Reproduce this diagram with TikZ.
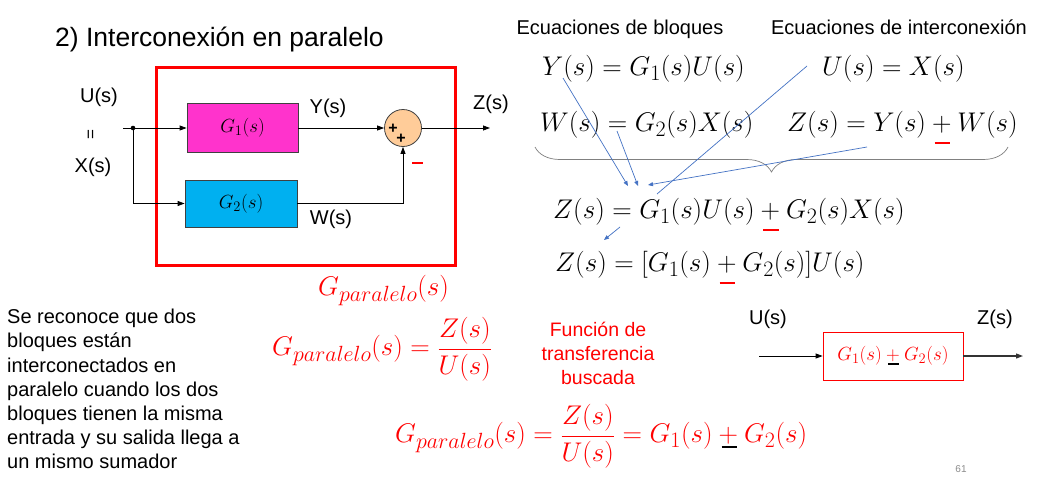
\RequirePackage{fix-cm}
\documentclass[tikz,border=0pt]{standalone}
\usepackage{fontspec}
\setmainfont{Liberation Sans}
\usetikzlibrary{arrows.meta,decorations.pathreplacing}
\DeclareMathSizes{27}{27}{22}{16}
\DeclareMathSizes{19}{19}{14.5}{11}
\definecolor{blockpink}{HTML}{FF33CC}
\definecolor{blockcyan}{HTML}{00B0F0}
\definecolor{sumfill}{HTML}{FFCC99}
\definecolor{noteblue}{HTML}{4472C4}
\definecolor{bracegray}{HTML}{808080}
% a "+" with a short rule beneath it: colour, drop below baseline, rule width
\newcommand\ulplus[3]{\mathbin{\smash{\rlap{\hbox to 0.778em{\hss\textcolor{#1}{\rule[-#2]{#3}{0.08em}}\hss}}}+}}
\tikzset{
  lbl/.style={font=\fontsize{20}{24}\selectfont, inner sep=0pt},
  eqn/.style={font=\fontsize{27}{30}\selectfont, inner sep=0pt, anchor=west},
  blk/.style={draw=black!75, line width=0.8pt, inner sep=0pt, font=\fontsize{19}{22}\selectfont},
  arr/.style={-{Triangle[length=7pt,width=5pt]}, line width=0.8pt},
  note/.style={noteblue, line width=0.7pt},
  notearr/.style={noteblue, line width=0.7pt, -{Triangle[length=5pt,width=4pt]}},
}
\begin{document}
\begin{tikzpicture}[x=1pt,y=-1pt]
\useasboundingbox (0,0) rectangle (1038,479);
\fill[white] (0,0) rectangle (1038,479);

% title
\node[lbl, anchor=base west, font=\fontsize{26.5}{30}\selectfont] (title) at (55,46) {2) Interconexión en paralelo};

% parallel block diagram
\node[draw=red, line width=3pt, minimum width=299pt, minimum height=198pt, inner sep=0pt] (frame) at (305.5,166) {};
\node[blk, fill=blockpink, minimum width=111pt, minimum height=49pt] (g1) at (242.5,128) {$G_1(s)$};
\node[blk, fill=blockcyan, minimum width=112pt, minimum height=47pt] (g2) at (241,203.5) {$G_2(s)$};
\node[circle, draw=black!75, line width=0.8pt, fill=sumfill, minimum size=37pt, inner sep=0pt] (sum) at (403,128) {};
\node[inner sep=0pt, font=\fontsize{16}{16}\bfseries] (p1) at (393,129) {+};
\node[inner sep=0pt, font=\fontsize{16}{16}\bfseries] (p2) at (401,139) {+};
\fill[red] (411.5,162.2) rectangle (423,164);

\coordinate (uin) at (123,128);
\coordinate (split) at (133,128);
\coordinate (zout) at (490,128);
\draw[arr] (uin) -- (g1.west);
\fill (split) circle (2.3pt);
\draw[arr] (split) |- (g2.west);
\draw[arr] (g1.east) -- (sum.west);
\draw[arr] (g2.east) -| (sum.south);
\draw[arr] (sum.east) -- (zout);

\node[lbl] (ulab) at (99,97) {U(s)};
\node[lbl, rotate=90, font=\fontsize{17}{17}\selectfont] (eqsign) at (92,135) {=};
\node[lbl] (xlab) at (93,167) {X(s)};
\node[lbl] (ylab) at (328,108) {Y(s)};
\node[lbl] (wlab) at (331,219) {W(s)};
\node[lbl] (zlab) at (491,104) {Z(s)};

\node[eqn, red] (gpar) at (318,291) {$G_{paralelo}(s)$};

% equations on the right
\node[lbl, anchor=base] (hblk) at (620,34) {Ecuaciones de bloques};
\node[lbl, anchor=base] (hint) at (899,34) {Ecuaciones de interconexión};
\node[eqn] (e1) at (542,69) {$Y(s)=G_1(s)U(s)$};
\node[eqn] (e2) at (822,69) {$U(s)=X(s)$};
\node[eqn] (e3) at (540,125) {$W(s)=G_2(s)X(s)$};
\node[eqn] (e4) at (787,125) {$Z(s)=Y(s)\ulplus{red}{0.45em}{0.58em}W(s)$};
\node[eqn] (e5) at (553,212) {$Z(s)=G_1(s)U(s)\ulplus{red}{0.45em}{0.58em}G_2(s)X(s)$};
\node[eqn] (e6) at (555,265) {$Z(s)=[G_1(s)\ulplus{red}{0.45em}{0.58em}G_2(s)]U(s)$};

\draw[bracegray, line width=0.7pt, decorate, decoration={brace, amplitude=25pt}] (1008,147) -- (535,147);

\coordinate (a1s) at (563,78);  \coordinate (a1e) at (628,186);
\coordinate (a2s) at (617,131); \coordinate (a2e) at (638,186);
\coordinate (a3s) at (807,66);  \coordinate (a3e) at (657,194);
\coordinate (a4s) at (867,147); \coordinate (a4e) at (648,185);
\coordinate (a5s) at (620,227); \coordinate (a5e) at (604,240);
\draw[notearr] (a1s) -- (a1e);
\draw[notearr] (a2s) -- (a2e);
\draw[note] (a3s) -- (a3e);
\draw[notearr] (a4s) -- (a4e);
\draw[notearr] (a5s) -- (a5e);

% explanation text
\node[lbl, anchor=north west, align=left, font=\fontsize{20}{24.2}\selectfont] (expl) at (7,309)
  {Se reconoce que dos\\bloques están\\interconectados en\\paralelo cuando los dos\\bloques tienen la misma\\entrada y su salida llega a\\un mismo sumador};

\node[eqn, red] (gdef) at (272,349) {$\displaystyle G_{paralelo}(s)=\frac{Z(s)}{U(s)}$};
\node[lbl, red, align=center, font=\fontsize{19.5}{24}\selectfont] (fdt) at (598,353) {Función de\\transferencia\\buscada};
\node[eqn, red] (gres) at (395,436) {$\displaystyle G_{paralelo}(s)=\frac{Z(s)}{U(s)}=G_1(s)\ulplus{black}{0.2em}{0.55em}G_2(s)$};

% equivalent single block
\node[lbl] (ulab2) at (768,319) {U(s)};
\node[lbl] (zlab2) at (995,319) {Z(s)};
\node[draw=red, line width=0.8pt, minimum width=140pt, minimum height=48pt, inner sep=0pt, red, font=\fontsize{19}{22}\selectfont] (geq) at (893,356) {$G_1(s)\ulplus{black}{0.2em}{0.55em}G_2(s)$};
\coordinate (uin2) at (759,356);
\coordinate (zout2) at (1023,356);
\draw[arr] (uin2) -- (geq.west);
\draw[arr, black!80, line width=1.2pt] (geq.east) -- (zout2);

\node[inner sep=0pt, text=black!45, font=\fontsize{10}{12}\selectfont] (pg) at (961,469) {61};
\end{tikzpicture}
\end{document}
